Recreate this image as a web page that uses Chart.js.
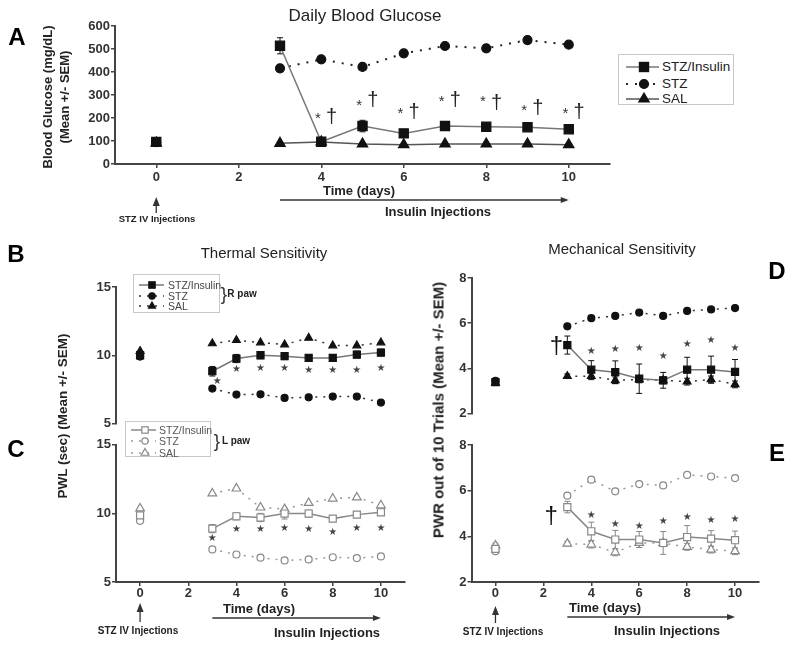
<!DOCTYPE html>
<html>
<head>
<meta charset="utf-8">
<title>Blood glucose, thermal and mechanical sensitivity</title>
<script src="https://cdn.jsdelivr.net/npm/chart.js@4.4.1/dist/chart.umd.min.js"></script>
<style>
  body { margin: 0; background: #fff; font-family: "Liberation Sans", Arial, sans-serif; }
  #fig { position: relative; width: 800px; height: 655px; overflow: hidden; }
  #fig canvas { position: absolute; left: 0; top: 0; }
  .lbl { position: absolute; white-space: nowrap; transform: translate(-50%, -50%); color: #222; line-height: 1; }
  .rot { transform: translate(-50%, -50%) rotate(-90deg); }
  .legend { position: absolute; border: 1px solid #c8c8c8; background: #fff; box-sizing: border-box; }
  .legend span { position: absolute; white-space: nowrap; transform: translateY(-50%); line-height: 1; }
  .legend svg { position: absolute; left: 0; }
</style>
</head>
<body>
<div id="fig">
  <canvas id="chartA" width="800" height="655"></canvas>
  <canvas id="chartB" width="800" height="655"></canvas>
  <canvas id="chartC" width="800" height="655"></canvas>
  <canvas id="chartD" width="800" height="655"></canvas>
  <canvas id="chartE" width="800" height="655"></canvas>
</div>
<script>
// shared x values
const days = [0, 3, 4, 5, 6, 7, 8, 9, 10];
const dayTicks = [0, 2, 4, 6, 8, 10];
const groups = ['STZ/Insulin', 'STZ', 'SAL'];
const sigDays = [4, 5, 6, 7, 8, 9, 10];
const insulinDays = [3, 10];

// A - daily blood glucose (mg/dL)
const gluTicks = [0, 100, 200, 300, 400, 500, 600];
const gluStzIns = [96, 514, 97, 165, 133, 165, 162, 160, 151];
const gluStz = [95, 416, 455, 422, 481, 513, 503, 539, 519];
const gluSal = [92, 90, 96, 87, 84, 87, 87, 87, 84];
const gluStzInsErr = [14, 35, 8, 25, 10, 14, 12, 12, 12];
const gluStzErr = [8, 10, 8, 8, 8, 8, 8, 8, 8];
const gluSalErr = [4, 4, 4, 4, 4, 4, 4, 4, 4];
const gluStarAt = [213, 270, 235, 287, 287, 248, 235];
const gluDaggerAt = [204, 278, 222, 278, 265, 243, 226];

// B - thermal, right paw (PWL sec)
const pwlTicks = [5, 10, 15];
const thRStzIns = [10.0, 8.83, 9.76, 10.0, 9.93, 9.8, 9.8, 10.05, 10.2];
const thRStz = [9.9, 7.56, 7.12, 7.14, 6.87, 6.92, 6.97, 6.97, 6.53];
const thRSal = [10.3, 10.86, 11.1, 10.93, 10.78, 11.27, 10.71, 10.71, 10.93];
const thRStzInsErr = [0.25, 0.35, 0.3, 0.25, 0.25, 0.25, 0.25, 0.25, 0.25];
const thRStarDays = [3.2, 4, 5, 6, 7, 8, 9, 10];
const thRStarAt = [8.1, 8.97, 9.0, 9.0, 8.9, 8.9, 8.9, 9.0];

// C - thermal, left paw
const thLStzIns = [9.85, 8.88, 9.78, 9.69, 9.98, 9.98, 9.61, 9.9, 10.07];
const thLStz = [9.45, 7.37, 7.0, 6.77, 6.57, 6.64, 6.8, 6.74, 6.86];
const thLSal = [10.35, 11.44, 11.8, 10.42, 10.3, 10.75, 11.07, 11.15, 10.58];
const thLStzInsErr = [0.2, 0.3, 0.25, 0.3, 0.4, 0.25, 0.2, 0.2, 0.2];
const thLStarDays = [3, 4, 5, 6, 7, 8, 9, 10];
const thLStarAt = [8.17, 8.8, 8.83, 8.9, 8.83, 8.6, 8.9, 8.9];

// D - mechanical, right paw (PWR out of 10)
const pwrTicks = [2, 4, 6, 8];
const meRStzIns = [3.39, 5.03, 3.94, 3.83, 3.54, 3.47, 3.94, 3.94, 3.84];
const meRStz = [3.45, 5.86, 6.22, 6.32, 6.47, 6.32, 6.54, 6.61, 6.67];
const meRSal = [3.35, 3.65, 3.65, 3.47, 3.51, 3.47, 3.41, 3.51, 3.29];
const meRStzInsErr = [0.15, 0.4, 0.4, 0.5, 0.65, 0.35, 0.55, 0.6, 0.55];
const meRSalErr = [0.1, 0.1, 0.15, 0.15, 0.15, 0.15, 0.15, 0.15, 0.15];
const meRStarAt = [4.74, 4.84, 4.87, 4.55, 5.07, 5.25, 4.89];
const meRDagger = [2.54, 4.98];

// E - mechanical, left paw
const meLStzIns = [3.45, 5.28, 4.22, 3.86, 3.86, 3.71, 3.97, 3.9, 3.83];
const meLStz = [3.35, 5.78, 6.48, 5.97, 6.29, 6.23, 6.69, 6.62, 6.55];
const meLSal = [3.6, 3.68, 3.64, 3.3, 3.71, 3.7, 3.54, 3.42, 3.35];
const meLStzInsErr = [0.15, 0.25, 0.4, 0.4, 0.35, 0.5, 0.5, 0.35, 0.4];
const meLSalErr = [0.1, 0.1, 0.15, 0.15, 0.2, 0.15, 0.15, 0.15, 0.15];
const meLStarAt = [4.9, 4.51, 4.44, 4.66, 4.85, 4.7, 4.73];
const meLDagger = [2.33, 4.87];

const FONT = '"Liberation Sans", Arial, sans-serif';
Chart.defaults.font.family = FONT;
Chart.defaults.color = '#333';

// marker/line styles: A, right paw (filled), left paw (open)
const styleA = [
  { marker: 'rect', r: 6.5, line: '#777', dash: [], fill: '#111', stroke: '#111', lw: 1.5 },
  { marker: 'circle', r: 4.5, line: '#222', dash: [2, 7], fill: '#111', stroke: '#111', lw: 2 },
  { marker: 'triangle', r: 6, line: '#555', dash: [], fill: '#111', stroke: '#111', lw: 1.5 }
];
const styleR = [
  { marker: 'rect', r: 5, line: '#777', dash: [], fill: '#111', stroke: '#111', lw: 1.5 },
  { marker: 'circle', r: 3.5, line: '#333', dash: [2, 6], fill: '#111', stroke: '#111', lw: 1.5 },
  { marker: 'triangle', r: 4.5, line: '#333', dash: [2, 6], fill: '#111', stroke: '#111', lw: 1.5 }
];
const styleL = [
  { marker: 'rect', r: 5, line: '#888', dash: [], fill: '#fff', stroke: '#888', lw: 1.5 },
  { marker: 'circle', r: 3.5, line: '#999', dash: [2, 6], fill: '#fff', stroke: '#888', lw: 1.5 },
  { marker: 'triangle', r: 5, line: '#999', dash: [2, 6], fill: '#fff', stroke: '#888', lw: 1.5 }
];

// extra drawing per canvas (error bars, significance marks, arrows), kept out of chart options
const extrasById = {};

function series(label, vals, st) {
  return {
    label,
    data: days.map((d, i) => ({ x: d, y: vals[i] })),
    borderColor: st.line, borderWidth: st.lw, borderDash: st.dash,
    pointStyle: st.marker, pointRadius: st.r,
    pointBackgroundColor: st.fill, pointBorderColor: st.stroke, pointBorderWidth: 1.2,
    // day 0 baseline is not joined to the treatment days
    segment: { borderColor: c => c.p0DataIndex === 0 ? 'rgba(0,0,0,0)' : undefined }
  };
}

const extrasPlugin = {
  id: 'extras',
  beforeDatasetsDraw(chart) {
    const ex = extrasById[chart.canvas.id];
    if (!ex) return;
    const { ctx, scales: { x, y } } = chart;
    ctx.save();
    ctx.lineWidth = 1;
    (ex.errors || []).forEach(eb => {
      ctx.strokeStyle = eb.color;
      days.forEach((d, i) => {
        const e = eb.err[i];
        const px = x.getPixelForValue(d);
        const y1 = y.getPixelForValue(eb.vals[i] + e), y2 = y.getPixelForValue(eb.vals[i] - e);
        ctx.beginPath();
        ctx.moveTo(px, y1); ctx.lineTo(px, y2);
        ctx.moveTo(px - 3, y1); ctx.lineTo(px + 3, y1);
        ctx.moveTo(px - 3, y2); ctx.lineTo(px + 3, y2);
        ctx.stroke();
      });
    });
    ctx.restore();
  },
  afterDatasetsDraw(chart) {
    const ex = extrasById[chart.canvas.id];
    if (!ex) return;
    const { ctx, chartArea, scales: { x, y } } = chart;
    ctx.save();
    ctx.textAlign = 'center';
    ctx.textBaseline = 'middle';
    (ex.marks || []).forEach(m => {
      ctx.font = m.font;
      ctx.fillStyle = m.color;
      ctx.fillText(m.text, x.getPixelForValue(m.x), y.getPixelForValue(m.y) + (m.dy || 0));
    });
    if (ex.arrows) {
      const a = ex.arrows, b = chartArea.bottom;
      ctx.strokeStyle = ctx.fillStyle = '#333';
      ctx.lineWidth = 1.3;
      const x1 = x.getPixelForValue(insulinDays[0]), x2 = x.getPixelForValue(insulinDays[1]);
      const ly = b + a.line;
      ctx.beginPath(); ctx.moveTo(x1, ly); ctx.lineTo(x2 - 6, ly); ctx.stroke();
      ctx.beginPath(); ctx.moveTo(x2, ly); ctx.lineTo(x2 - 8, ly - 3); ctx.lineTo(x2 - 8, ly + 3); ctx.closePath(); ctx.fill();
      const sx = x.getPixelForValue(0);
      ctx.beginPath(); ctx.moveTo(sx, b + a.bot); ctx.lineTo(sx, b + a.top + 6); ctx.stroke();
      ctx.beginPath(); ctx.moveTo(sx, b + a.top); ctx.lineTo(sx - 3.5, b + a.top + 9); ctx.lineTo(sx + 3.5, b + a.top + 9); ctx.closePath(); ctx.fill();
    }
    ctx.restore();
  }
};

function panel(id, box, yRange, yTicks, datasets, xPad) {
  const showX = xPad !== undefined;
  const axisGrid = { display: true, drawOnChartArea: false, drawTicks: true, tickLength: 4, color: '#444', lineWidth: 1.5 };
  const axisBorder = { display: true, color: '#444', width: 2 };
  const tickFont = { size: 13, weight: 'bold' };
  return new Chart(document.getElementById(id), {
    type: 'line',
    data: { datasets },
    options: {
      responsive: false, animation: false, events: [],
      layout: { padding: { left: box.l - 60, top: box.t, right: 800 - box.r, bottom: 655 - box.b - (showX ? 30 : 0) } },
      plugins: { legend: { display: false }, tooltip: { enabled: false } },
      scales: {
        x: {
          type: 'linear', min: -1, max: 11, display: showX,
          afterBuildTicks: s => { s.ticks = dayTicks.map(v => ({ value: v })); },
          afterFit: s => { if (showX) s.height = 30; },
          grid: axisGrid, border: axisBorder,
          ticks: { font: tickFont, color: '#333', padding: xPad || 0, maxRotation: 0 }
        },
        y: {
          type: 'linear', min: yRange[0], max: yRange[1],
          afterBuildTicks: s => { s.ticks = yTicks.map(v => ({ value: v })); },
          afterFit: s => { s.width = 60; },
          grid: axisGrid, border: axisBorder,
          ticks: { font: tickFont, color: '#333', padding: 1 }
        }
      }
    },
    plugins: [extrasPlugin]
  });
}

function starMarks(xs, ys) {
  return xs.map((d, i) => ({ x: d, y: ys[i], text: '\u2605', font: '10px "DejaVu Sans"', color: '#444' }));
}
function dagger(p, size) {
  return { x: p[0], y: p[1], text: '\u2020', font: size + 'px ' + FONT, color: '#111' };
}
function errs(vals, err, st) {
  return { vals, err, color: st.stroke };
}

// A
extrasById.chartA = {
  errors: [errs(gluStzIns, gluStzInsErr, styleA[0]), errs(gluStz, gluStzErr, styleA[1]), errs(gluSal, gluSalErr, styleA[2])],
  marks: [
    ...sigDays.map((d, i) => ({ x: d - 0.08, y: gluStarAt[i], text: '*', font: '15px ' + FONT, color: '#333', dy: 4 })),
    ...sigDays.map((d, i) => ({ x: d + 0.25, y: gluDaggerAt[i], text: '\u2020', font: '20px ' + FONT, color: '#222' }))
  ],
  arrows: { line: 36, top: 33, bot: 49 }
};
panel('chartA', { l: 115, t: 26, r: 610, b: 164 }, [0, 600], gluTicks, [
  series(groups[0], gluStzIns, styleA[0]),
  series(groups[1], gluStz, styleA[1]),
  series(groups[2], gluSal, styleA[2])
], 2);

// B
extrasById.chartB = {
  errors: [errs(thRStzIns, thRStzInsErr, styleR[0])],
  marks: starMarks(thRStarDays, thRStarAt)
};
panel('chartB', { l: 116, t: 287, r: 405, b: 423.5 }, [5, 15], pwlTicks, [
  series(groups[0], thRStzIns, styleR[0]),
  series(groups[1], thRStz, styleR[1]),
  series(groups[2], thRSal, styleR[2])
]);

// C
extrasById.chartC = {
  errors: [errs(thLStzIns, thLStzInsErr, styleL[0])],
  marks: starMarks(thLStarDays, thLStarAt),
  arrows: { line: 36, top: 21, bot: 40 }
};
panel('chartC', { l: 116, t: 444.5, r: 405, b: 582 }, [5, 15], pwlTicks, [
  series(groups[0], thLStzIns, styleL[0]),
  series(groups[1], thLStz, styleL[1]),
  series(groups[2], thLSal, styleL[2])
], 0);

// D
extrasById.chartD = {
  errors: [errs(meRStzIns, meRStzInsErr, styleR[0]), errs(meRSal, meRSalErr, styleR[2])],
  marks: [...starMarks(sigDays, meRStarAt), dagger(meRDagger, 24)]
};
panel('chartD', { l: 471.5, t: 278, r: 759, b: 413.5 }, [2, 8], pwrTicks, [
  series(groups[0], meRStzIns, styleR[0]),
  series(groups[1], meRStz, styleR[1]),
  series(groups[2], meRSal, styleR[2])
]);

// E
extrasById.chartE = {
  errors: [errs(meLStzIns, meLStzInsErr, styleL[0]), errs(meLSal, meLSalErr, styleL[2])],
  marks: [...starMarks(sigDays, meLStarAt), dagger(meLDagger, 24)],
  arrows: { line: 35, top: 24, bot: 41 }
};
panel('chartE', { l: 471.5, t: 445, r: 759, b: 582 }, [2, 8], pwrTicks, [
  series(groups[0], meLStzIns, styleL[0]),
  series(groups[1], meLStz, styleL[1]),
  series(groups[2], meLSal, styleL[2])
], 0);

// ---- text labels (html) ----
const fig = document.getElementById('fig');
function label(text, x, y, css, rotate) {
  const el = document.createElement('div');
  el.className = 'lbl' + (rotate ? ' rot' : '');
  el.textContent = text;
  el.style.cssText = css + `left:${x}px;top:${y}px;`;
  fig.appendChild(el);
}
const bold = (s) => `font-weight:bold;font-size:${s}px;`;

label('Daily Blood Glucose', 365, 15, 'font-size:17px;');
label('Thermal Sensitivity', 264, 252, 'font-size:15px;');
label('Mechanical Sensitivity', 622, 248, 'font-size:15px;');

label('A', 17, 37, bold(24) + 'color:#000;');
label('B', 16, 254, bold(24) + 'color:#000;');
label('C', 16, 449, bold(24) + 'color:#000;');
label('D', 777, 271, bold(24) + 'color:#000;');
label('E', 777, 453, bold(24) + 'color:#000;');

label('Blood Glucose (mg/dL)', 47, 97, bold(13), true);
label('(Mean +/- SEM)', 64, 97, bold(13), true);
label('PWL (sec) (Mean +/- SEM)', 63, 416, bold(13.5), true);
label('PWR out of 10 Trials (Mean +/- SEM)', 438, 410, bold(15), true);

label('Time (days)', 359, 190, bold(13));
label('Insulin Injections', 438, 211, bold(13));
label('STZ IV Injections', 157, 219, bold(9.5));
label('Time (days)', 259, 608, bold(13));
label('Insulin Injections', 327, 632, bold(13));
label('STZ IV Injections', 138, 631, bold(10));
label('Time (days)', 605, 607, bold(13));
label('Insulin Injections', 667, 630, bold(13));
label('STZ IV Injections', 503, 632, bold(10));

label('}', 224, 293, 'font-size:19px;color:#333;');
label('R paw', 242, 294, bold(10));
label('}', 217, 440, 'font-size:19px;color:#333;');
label('L paw', 236, 441, bold(10));

// ---- legends ----
function svgMarker(s, cx, cy) {
  const r = s.r;
  const paint = `fill="${s.fill}" stroke="${s.stroke}" stroke-width="1.2"`;
  if (s.marker === 'rect') {
    const h = r * Math.SQRT1_2;
    return `<rect x="${cx - h}" y="${cy - h}" width="${2 * h}" height="${2 * h}" ${paint}/>`;
  }
  if (s.marker === 'circle') return `<circle cx="${cx}" cy="${cy}" r="${r}" ${paint}/>`;
  const pts = [[cx, cy - r], [cx + r * 0.866, cy + r / 2], [cx - r * 0.866, cy + r / 2]];
  return `<polygon points="${pts.map(p => p.join(',')).join(' ')}" ${paint}/>`;
}
function legend(box, rows, sw, styles, font, color) {
  const el = document.createElement('div');
  el.className = 'legend';
  Object.assign(el.style, { left: box.l + 'px', top: box.t + 'px', width: box.w + 'px', height: box.h + 'px' });
  let html = '';
  rows.forEach((ry, i) => {
    const s = styles[i];
    const dash = s.dash.length ? `stroke-dasharray="${s.dash.join(' ')}"` : '';
    html += `<svg style="top:${ry - 7}px" width="${sw.tx}" height="14">` +
      `<line x1="${sw.x1}" y1="7" x2="${sw.x2}" y2="7" stroke="${s.line}" stroke-width="${s.lw}" ${dash}/>` +
      svgMarker(s, sw.mx, 7) + '</svg>' +
      `<span style="left:${sw.tx}px;top:${ry}px;font-size:${font}px;color:${color}">${groups[i]}</span>`;
  });
  el.innerHTML = html;
  fig.appendChild(el);
}
legend({ l: 618, t: 54, w: 116, h: 51 }, [12, 29, 44], { x1: 7, x2: 40, mx: 25, tx: 43 }, styleA, 13.5, '#222');
legend({ l: 133, t: 274, w: 87, h: 39 }, [9.5, 20.5, 31], { x1: 5, x2: 30, mx: 18, tx: 34 },
  styleR.map(s => Object.assign({}, s, { r: s.r * 0.9 })), 10.5, '#444');
legend({ l: 125, t: 421, w: 86, h: 36 }, [7.5, 19, 30.5], { x1: 5, x2: 30, mx: 19, tx: 33 },
  styleL.map(s => Object.assign({}, s, { r: s.r * 0.9 })), 10.5, '#555');
</script>
</body>
</html>
